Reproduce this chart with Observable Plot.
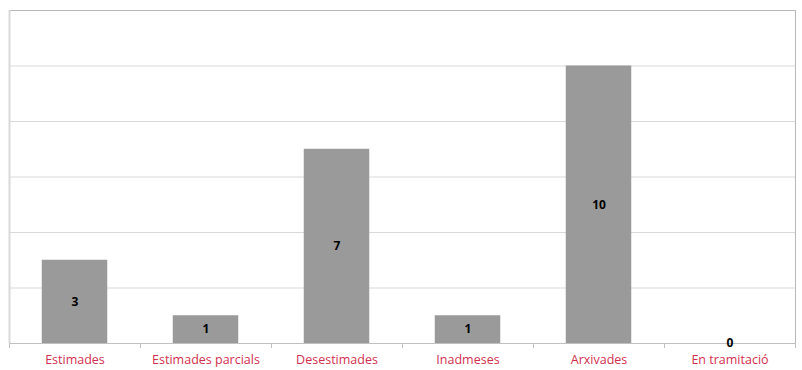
<!DOCTYPE html>
<html>
<head>
<meta charset="utf-8">
<script src="https://cdn.jsdelivr.net/npm/d3@7"></script>
<script src="https://cdn.jsdelivr.net/npm/@observablehq/plot@0.6"></script>
<style>
  html, body { margin: 0; padding: 0; background: #fff; }
  #chart svg { display: block; }
</style>
</head>
<body>
<div id="chart"></div>
<script>
const categories = ["Estimades", "Estimades parcials", "Desestimades", "Inadmeses", "Arxivades", "En tramitació"];
const values = [3, 1, 7, 1, 10, 0];
const gridValues = [0, 2, 4, 6, 8, 10, 12];

const data = categories.map((c, i) => ({ cat: c, idx: i, value: values[i] }));
const boundaries = d3.range(categories.length + 1);

const chart = Plot.plot({
  width: 802,
  height: 370,
  marginLeft: 9,
  marginRight: 7,
  marginTop: 10,
  marginBottom: 27,
  x: { domain: [0, categories.length], axis: null },
  y: { domain: [0, 12], axis: null },
  style: { fontFamily: "'Open Sans', sans-serif", background: "#fff" },
  marks: [
    Plot.ruleY(gridValues.slice(1, -1), { stroke: "#d9d9d9", strokeWidth: 1 }),
    Plot.ruleY([12], { stroke: "#b8b8b8", strokeWidth: 1 }),
    Plot.ruleX([0], { stroke: "#d9d9d9", strokeWidth: 2 }),
    Plot.ruleX([categories.length], { stroke: "#b8b8b8", strokeWidth: 1 }),
    Plot.rectY(data, {
      x1: d => d.idx + 0.25,
      x2: d => d.idx + 0.75,
      y: "value",
      fill: "#9a9a9a"
    }),
    Plot.ruleY([0], { stroke: "#c0c0c0", strokeWidth: 1 }),
    Plot.axisX(boundaries, {
      tickSize: 5,
      tickFormat: () => "",
      stroke: "#c0c0c0",
      anchor: "bottom"
    }),
    Plot.text(data, {
      x: d => d.idx + 0.5,
      y: d => d.value / 2,
      text: d => String(d.value),
      fontWeight: "bold",
      fontSize: 12,
      fill: "#000"
    }),
    Plot.text(data, {
      x: d => d.idx + 0.5,
      y: 0,
      text: "cat",
      dy: 16,
      fontSize: 12.5,
      fill: "#d0304f"
    })
  ]
});
document.getElementById("chart").appendChild(chart);
</script>
</body>
</html>
